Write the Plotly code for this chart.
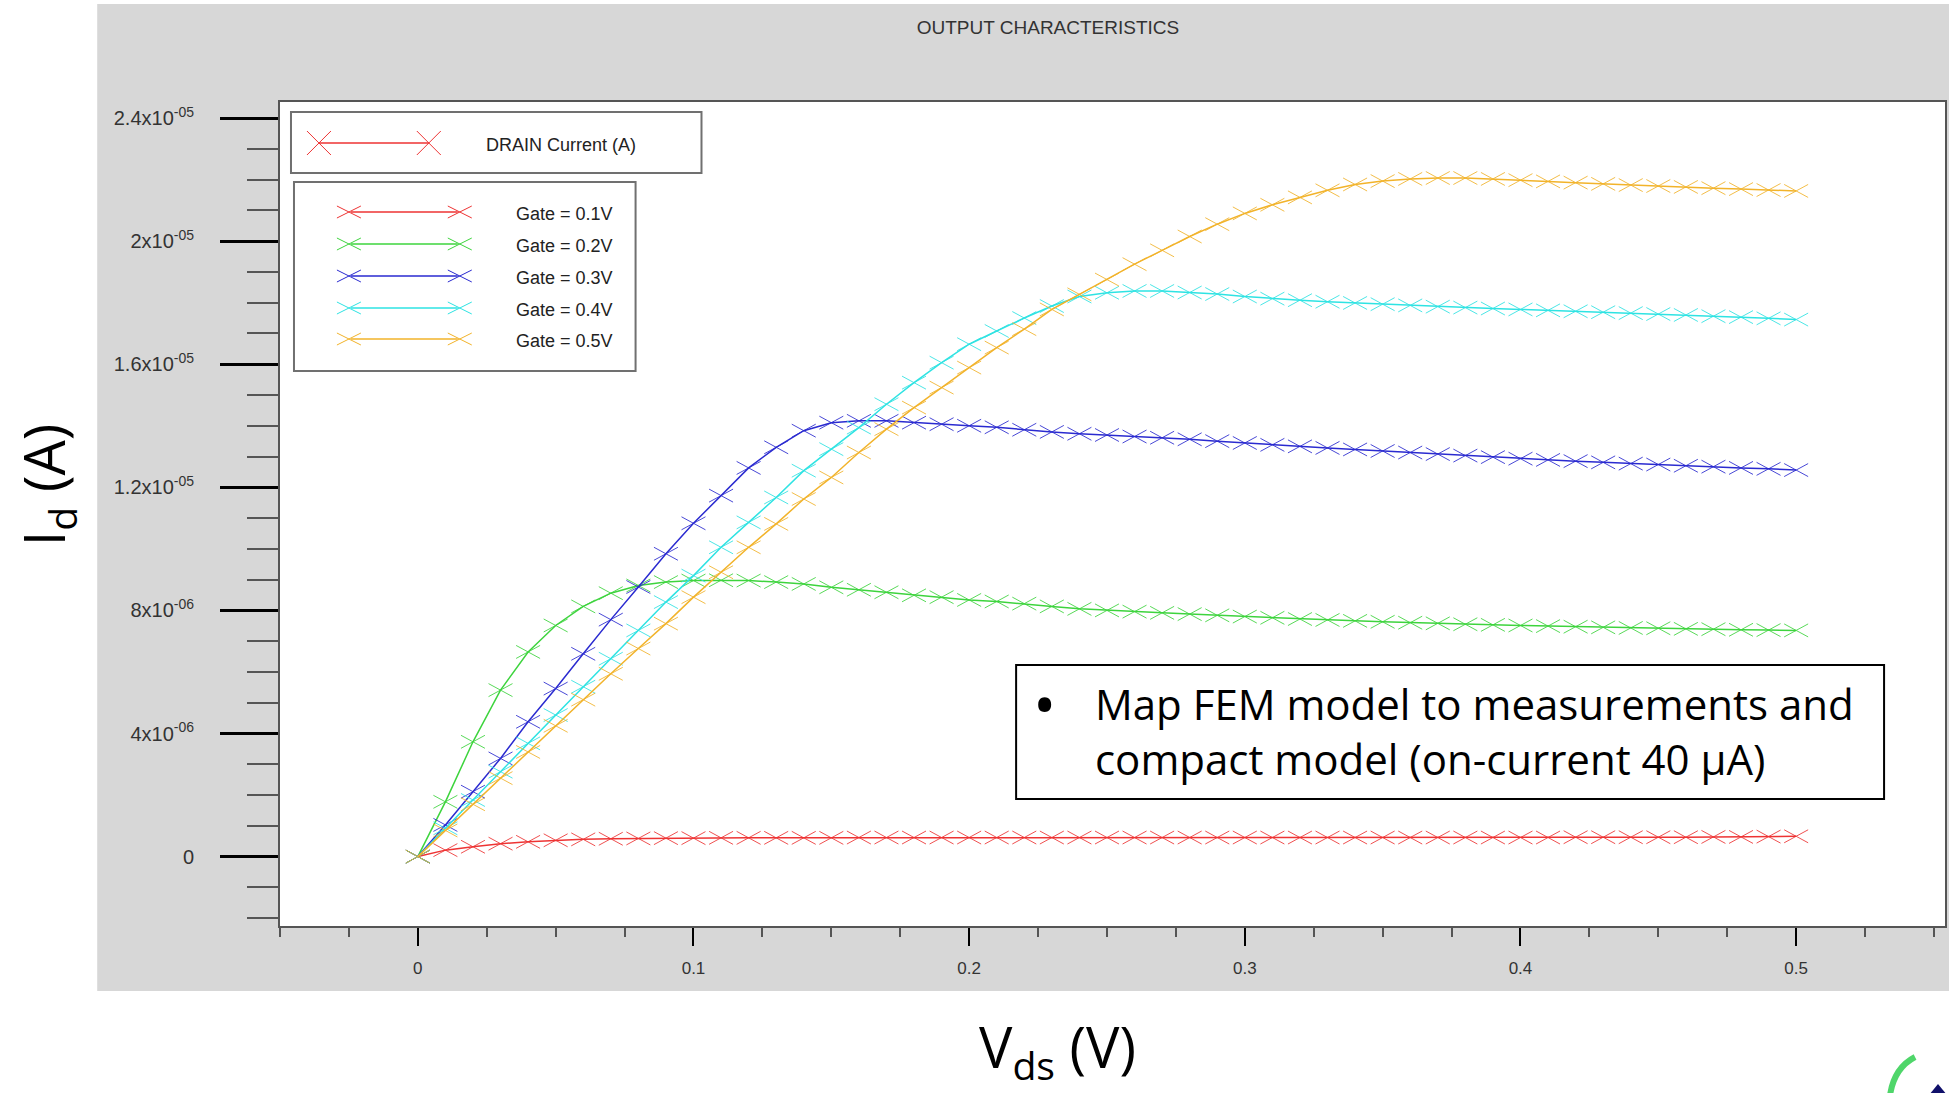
import plotly.graph_objects as go

# ---------------- data ----------------
vds = [0.00, 0.01, 0.02, 0.03, 0.04, 0.05, 0.06, 0.07, 0.08, 0.09,
       0.10, 0.11, 0.12, 0.13, 0.14, 0.15, 0.16, 0.17, 0.18, 0.19,
       0.20, 0.21, 0.22, 0.23, 0.24, 0.25, 0.26, 0.27, 0.28, 0.29,
       0.30, 0.31, 0.32, 0.33, 0.34, 0.35, 0.36, 0.37, 0.38, 0.39,
       0.40, 0.41, 0.42, 0.43, 0.44, 0.45, 0.46, 0.47, 0.48, 0.49, 0.50]

# drain current in microamps
id_gate_01 = [0.00, 0.21, 0.32, 0.42, 0.48, 0.53, 0.56, 0.58, 0.59, 0.60,
              0.60, 0.61, 0.61, 0.61, 0.61, 0.61, 0.62, 0.62, 0.62, 0.62,
              0.62, 0.62, 0.62, 0.62, 0.62, 0.62, 0.62, 0.62, 0.62, 0.62,
              0.62, 0.62, 0.62, 0.62, 0.62, 0.62, 0.62, 0.62, 0.62, 0.62,
              0.62, 0.62, 0.63, 0.63, 0.63, 0.63, 0.63, 0.64, 0.64, 0.65, 0.66]
id_gate_02 = [0.00, 1.78, 3.73, 5.41, 6.65, 7.51, 8.13, 8.56, 8.81, 8.92,
              8.97, 8.98, 8.97, 8.92, 8.86, 8.75, 8.67, 8.59, 8.49, 8.43,
              8.34, 8.29, 8.22, 8.13, 8.05, 8.00, 7.96, 7.92, 7.88, 7.84,
              7.80, 7.76, 7.72, 7.69, 7.66, 7.63, 7.60, 7.58, 7.55, 7.53,
              7.51, 7.49, 7.47, 7.45, 7.43, 7.42, 7.40, 7.39, 7.37, 7.36, 7.35]
id_gate_03 = [0.00, 1.03, 2.11, 3.19, 4.38, 5.46, 6.59, 7.70, 8.76, 9.84,
              10.83, 11.73, 12.63, 13.30, 13.84, 14.10, 14.16, 14.16, 14.10, 14.05,
              14.00, 13.95, 13.87, 13.80, 13.74, 13.70, 13.65, 13.61, 13.56, 13.50,
              13.44, 13.38, 13.33, 13.28, 13.23, 13.18, 13.13, 13.08, 13.03, 12.98,
              12.93, 12.89, 12.85, 12.81, 12.77, 12.74, 12.70, 12.67, 12.63, 12.60, 12.56]
id_gate_04 = [0.00, 0.92, 1.84, 2.76, 3.68, 4.60, 5.52, 6.43, 7.35, 8.27,
              9.13, 10.05, 10.86, 11.67, 12.54, 13.24, 13.94, 14.70, 15.40, 16.05,
              16.65, 17.08, 17.50, 17.89, 18.20, 18.32, 18.38, 18.38, 18.33, 18.28,
              18.20, 18.13, 18.08, 18.03, 17.99, 17.95, 17.91, 17.87, 17.84, 17.81,
              17.78, 17.75, 17.72, 17.69, 17.66, 17.63, 17.60, 17.56, 17.53, 17.49, 17.45]
id_gate_05 = [0.00, 0.85, 1.70, 2.55, 3.40, 4.25, 5.10, 5.94, 6.76, 7.57,
              8.43, 9.24, 10.05, 10.81, 11.62, 12.32, 13.13, 13.89, 14.59, 15.24,
              15.89, 16.54, 17.14, 17.78, 18.27, 18.75, 19.25, 19.70, 20.15, 20.55,
              20.90, 21.18, 21.42, 21.65, 21.84, 21.95, 22.02, 22.05, 22.05, 22.02,
              21.98, 21.94, 21.90, 21.86, 21.82, 21.79, 21.76, 21.72, 21.69, 21.66, 21.63]

series_values = [id_gate_01, id_gate_02, id_gate_03, id_gate_04, id_gate_05]
gate_labels = ["Gate = 0.1V", "Gate = 0.2V", "Gate = 0.3V", "Gate = 0.4V", "Gate = 0.5V"]
drain_label = "DRAIN Current (A)"

ytick_vals = [0, 4e-06, 8e-06, 1.2e-05, 1.6e-05, 2e-05, 2.4e-05]
ytick_text = ["0", "4x10<sup>-06</sup>", "8x10<sup>-06</sup>", "1.2x10<sup>-05</sup>",
              "1.6x10<sup>-05</sup>", "2x10<sup>-05</sup>", "2.4x10<sup>-05</sup>"]
xtick_vals = [0, 0.1, 0.2, 0.3, 0.4, 0.5]
xtick_text = ["0", "0.1", "0.2", "0.3", "0.4", "0.5"]

title_text = "OUTPUT CHARACTERISTICS"
x_title = "V<sub>ds</sub> (V)"
y_title = "I<sub>d</sub> (A)"
note_text = "Map FEM model to measurements and<br>compact model (on-current 40 µA)"

# ---------------- styles / layout geometry ----------------
colors = ["#ee3333", "#3dd43d", "#2a2ad0", "#2ee3e3", "#f2b32a"]
W, H = 1949, 1093
L, R, T, B = 280, 2, 102, 167
PW, PH = W - L - R, H - T - B
XR = [-0.05, 0.554]
YR = [-2.255e-06, 24.52e-06]
TICK_FONT = "Liberation Sans, Arial, sans-serif"
SLIDE_FONT = "Open Sans, Noto Sans, sans-serif"


def px(x):
    return (x - L) / PW


def py(y):
    return (H - B - y) / PH


# half size of the wide "x" markers, in data units
mdx = 12.0 / PW * (XR[1] - XR[0])
mdy = 6.5 / PH * (YR[1] - YR[0]) / 1e-06

fig = go.Figure()

for vals, col, name in zip(series_values, colors, gate_labels):
    amps = [v * 1e-06 for v in vals]
    fig.add_trace(go.Scatter(x=vds, y=amps, mode="lines", name=name,
                             line=dict(color=col, width=1.5), showlegend=False,
                             hoverinfo="x+y+name"))
    mx, my = [], []
    for xv, yv in zip(vds, vals):
        mx += [xv - mdx, xv + mdx, None, xv - mdx, xv + mdx, None]
        my += [(yv - mdy) * 1e-06, (yv + mdy) * 1e-06, None,
               (yv + mdy) * 1e-06, (yv - mdy) * 1e-06, None]
    fig.add_trace(go.Scatter(x=mx, y=my, mode="lines", name=name + " markers",
                             line=dict(color=col, width=1), opacity=0.85,
                             showlegend=False, hoverinfo="skip"))

shapes = []
# grey frame + white plot area
shapes.append(dict(type="rect", xref="paper", yref="paper", layer="below",
                   x0=px(97), x1=px(W + 2), y0=py(991), y1=py(4),
                   fillcolor="#d7d7d7", line=dict(width=0)))
shapes.append(dict(type="rect", xref="paper", yref="paper", layer="below",
                   x0=0, x1=1, y0=0, y1=1, fillcolor="white", line=dict(width=0)))

# legend box 1
shapes.append(dict(type="rect", xref="paper", yref="paper", layer="above",
                   x0=px(291), x1=px(702), y0=py(173), y1=py(112),
                   fillcolor="white", line=dict(color="#707070", width=2)))
shapes.append(dict(type="line", xref="paper", yref="paper", x0=px(319), x1=px(429),
                   y0=py(143), y1=py(143), line=dict(color=colors[0], width=1.5)))
for cx in (319, 429):
    shapes.append(dict(type="line", xref="paper", yref="paper", x0=px(cx - 12), x1=px(cx + 12),
                       y0=py(131), y1=py(155), line=dict(color=colors[0], width=1)))
    shapes.append(dict(type="line", xref="paper", yref="paper", x0=px(cx - 12), x1=px(cx + 12),
                       y0=py(155), y1=py(131), line=dict(color=colors[0], width=1)))

# legend box 2
shapes.append(dict(type="rect", xref="paper", yref="paper", layer="above",
                   x0=px(294), x1=px(636), y0=py(371), y1=py(182),
                   fillcolor="white", line=dict(color="#707070", width=2)))
rows = [212, 244, 276, 308, 339]
for ry, col in zip(rows, colors):
    shapes.append(dict(type="line", xref="paper", yref="paper", x0=px(351), x1=px(458),
                       y0=py(ry), y1=py(ry), line=dict(color=col, width=1.5)))
    for cx in (349, 460):
        shapes.append(dict(type="line", xref="paper", yref="paper", x0=px(cx - 12), x1=px(cx + 12),
                           y0=py(ry - 6), y1=py(ry + 6), line=dict(color=col, width=1)))
        shapes.append(dict(type="line", xref="paper", yref="paper", x0=px(cx - 12), x1=px(cx + 12),
                           y0=py(ry + 6), y1=py(ry - 6), line=dict(color=col, width=1)))

# note box
shapes.append(dict(type="rect", xref="paper", yref="paper", layer="above",
                   x0=px(1017), x1=px(1886), y0=py(799), y1=py(665),
                   fillcolor="white", line=dict(color="black", width=2)))

# corner logo fragment
shapes.append(dict(type="path", xref="paper", yref="paper",
                   path="M %f,%f Q %f,%f %f,%f" % (px(1917), py(1057), px(1896), py(1068),
                                                   px(1892), py(1095)),
                   line=dict(color="#4fd66a", width=6)))
shapes.append(dict(type="path", xref="paper", yref="paper",
                   path="M %f,%f L %f,%f L %f,%f Z" % (px(1931), py(1095), px(1940), py(1084),
                                                       px(1949), py(1095)),
                   fillcolor="#10106a", line=dict(width=0)))

annotations = []
annotations.append(dict(xref="paper", yref="paper", x=px(484), y=py(145), text=drain_label,
                        showarrow=False, xanchor="left", yanchor="middle",
                        font=dict(family=TICK_FONT, size=18, color="#222")))
for ry, lab in zip(rows, gate_labels):
    annotations.append(dict(xref="paper", yref="paper", x=px(514), y=py(ry + 2), text=lab,
                            showarrow=False, xanchor="left", yanchor="middle",
                            font=dict(family=TICK_FONT, size=18, color="#222")))
annotations.append(dict(xref="paper", yref="paper", x=px(1045), y=py(703), text="•",
                        showarrow=False, xanchor="center", yanchor="middle",
                        font=dict(family=SLIDE_FONT, size=62, color="black")))
annotations.append(dict(xref="paper", yref="paper", x=px(1094), y=py(731), text=note_text,
                        showarrow=False, xanchor="left", yanchor="middle", align="left",
                        font=dict(family=SLIDE_FONT, size=42, color="black")))
annotations.append(dict(xref="paper", yref="paper", x=px(1058), y=py(1049), text=x_title,
                        showarrow=False, xanchor="center", yanchor="middle",
                        font=dict(family=SLIDE_FONT, size=56, color="black")))
annotations.append(dict(xref="paper", yref="paper", x=px(47), y=py(485), text=y_title,
                        showarrow=False, xanchor="center", yanchor="middle", textangle=-90,
                        font=dict(family=SLIDE_FONT, size=56, color="black")))

fig.update_layout(
    width=W, height=H,
    margin=dict(l=L, r=R, t=T, b=B, pad=0),
    paper_bgcolor="white", plot_bgcolor="white",
    showlegend=False,
    title=dict(text=title_text, x=1048 / W, y=1 - 27 / H, xref="container", yref="container",
               xanchor="center", yanchor="middle",
               font=dict(family=TICK_FONT, size=19, color="#333")),
    shapes=shapes, annotations=annotations,
    xaxis=dict(range=XR, tickmode="array", tickvals=xtick_vals, ticktext=xtick_text,
               showgrid=False, zeroline=False, showline=True, mirror=True,
               linecolor="#555", linewidth=2, ticks="outside", ticklen=18, tickwidth=2,
               tickcolor="black", ticklabelstandoff=8,
               tickfont=dict(family=TICK_FONT, size=17, color="#333"),
               minor=dict(tickmode="linear", tick0=0, dtick=0.025, ticks="outside",
                          ticklen=9, tickwidth=1.5, tickcolor="#555", showgrid=False)),
    yaxis=dict(range=YR, tickmode="array", tickvals=ytick_vals, ticktext=ytick_text,
               showgrid=False, zeroline=False, showline=True, mirror=True,
               linecolor="#555", linewidth=2, ticks="outside", ticklen=58, tickwidth=3,
               tickcolor="black", ticklabelstandoff=22,
               tickfont=dict(family=TICK_FONT, size=20, color="#333"),
               minor=dict(tickmode="linear", tick0=0, dtick=1e-06, ticks="outside",
                          ticklen=31, tickwidth=2, tickcolor="#555", showgrid=False)),
)

fig.write_html("out.html")
